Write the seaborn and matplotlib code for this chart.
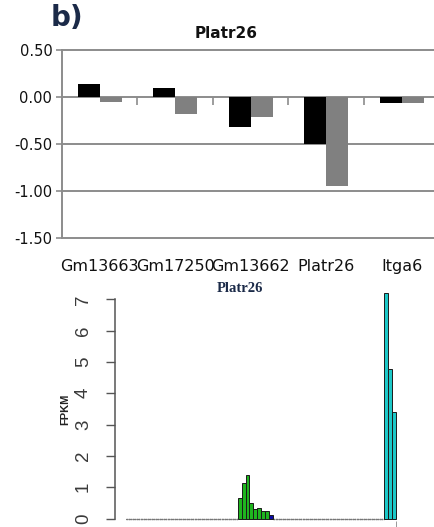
import matplotlib
matplotlib.use("Agg")
import matplotlib.pyplot as plt
import seaborn as sns
import pandas as pd
import numpy as np

# ---------------- data ----------------
genes = ["Gm13663", "Gm17250", "Gm13662", "Platr26", "Itga6"]
series_a = [0.14, 0.10, -0.32, -0.50, -0.07]
series_b = [-0.05, -0.18, -0.21, -0.95, -0.06]
top_ticks = [0.50, 0.00, -0.50, -1.00, -1.50]
top_tick_labels = ["0.50", "0.00", "-0.50", "-1.00", "-1.50"]

fpkm = [0.0, 0.0, 0.0, 0.0, 0.0, 0.0, 0.0, 0.0, 0.0, 0.0,
        0.0, 0.0, 0.0, 0.0, 0.0, 0.0, 0.0, 0.0, 0.0, 0.0,
        0.0, 0.0, 0.0, 0.0, 0.0, 0.0, 0.0, 0.0, 0.0,
        0.65, 1.15, 1.40, 0.51, 0.30, 0.33, 0.23, 0.26,
        0.12,
        0.0, 0.0, 0.0, 0.0, 0.0, 0.0, 0.0, 0.0, 0.0, 0.0,
        0.0, 0.0, 0.0, 0.0, 0.0, 0.0, 0.0, 0.0, 0.0, 0.0,
        0.0, 0.0, 0.0, 0.0, 0.0, 0.0, 0.0, 0.0, 0.0,
        7.19, 4.77, 3.41]
groups = (["none"] * 29 + ["green"] * 8 + ["blue"] * 1 + ["none"] * 29 + ["cyan"] * 3)
bottom_ticks = [0, 1, 2, 3, 4, 5, 6, 7]

# ---------------- figure ----------------
sns.set_style("white")
plt.rcParams["font.family"] = ["DejaVu Sans"]
W, H = 435, 527
fig = plt.figure(figsize=(W / 100, H / 100), dpi=100)

# ---------- top panel (Excel-like) ----------
grid_col = "#8c8c8c"
ax1 = fig.add_axes([62 / W, 1 - 237.7 / H, (W - 62) / W, 187.7 / H])
df_top = pd.DataFrame({
    "gene": genes * 2,
    "value": series_a + series_b,
    "series": ["A"] * len(genes) + ["B"] * len(genes),
})
sns.barplot(data=df_top, x="gene", y="value", hue="series", order=genes,
            palette={"A": "#000000", "B": "#808080"}, width=0.58,
            saturation=1, legend=False, ax=ax1, edgecolor="none")
ax1.set_ylim(-1.5, 0.5)
ax1.set_xlim(-0.5, -0.5 + (W - 62) / 75.5)
for t in top_ticks:
    ax1.axhline(t, color=grid_col, lw=1.4, zorder=0.5, clip_on=False)
for s in ["top", "right", "bottom"]:
    ax1.spines[s].set_visible(False)
ax1.spines["left"].set_color(grid_col)
ax1.spines["left"].set_linewidth(1.4)
ax1.set_yticks(top_ticks)
ax1.set_yticklabels(top_tick_labels)
ax1.tick_params(axis="y", length=4, width=1.2, color=grid_col, pad=3,
                labelsize=10.5, labelcolor="#111111", left=True)
ax1.set_xticks(range(len(genes)))
ax1.set_xticklabels(genes)
ax1.tick_params(axis="x", length=0, pad=15, labelsize=11.5, labelcolor="#111111")
ax1.set_xlabel("")
ax1.set_ylabel("")
# category separator tick marks on the zero line
ax1.vlines([i + 0.5 for i in range(len(genes) - 1)], -0.085, 0.0,
           colors=grid_col, lw=1.2, zorder=0.6)
fig.text(226 / W, 1 - 34 / H, "Platr26", ha="center", va="center",
         fontsize=11, fontweight="bold", color="#111111")
fig.text(51 / W, 1 - 18 / H, "b)", ha="left", va="center",
         fontsize=20, fontweight="bold", color="#1b2a48")

# ---------- bottom panel (R barplot-like) ----------
pitch = 270 / len(fpkm)
ax2 = fig.add_axes([115 / W, 1 - 521 / H, 285 / W, 231.1 / H])
df_bot = pd.DataFrame({"idx": range(len(fpkm)), "fpkm": fpkm, "grp": groups})
sns.barplot(data=df_bot, x="idx", y="fpkm", hue="grp", dodge=False,
            palette={"none": "#bbbbbb", "green": "#1fb51f",
                     "blue": "#0a0aa5", "cyan": "#1cc8c8"},
            width=1.0, saturation=1, legend=False, ax=ax2,
            edgecolor="#1a1a1a", linewidth=0.7)
for p in ax2.patches:
    if p.get_height() == 0:
        p.set_edgecolor("#777777")
        p.set_linestyle((0, (1.2, 0.6)))
        p.set_linewidth(0.9)
ax2.set_xlim(-0.5 - 11 / pitch, -0.5 - 11 / pitch + 285 / pitch)
ax2.set_ylim(-0.075, -0.075 + 231.1 / 31.34)
for s in ["top", "right", "bottom"]:
    ax2.spines[s].set_visible(False)
ax2.spines["left"].set_bounds(0, 7)
ax2.spines["left"].set_color("#555555")
ax2.spines["left"].set_linewidth(1.1)
ax2.set_yticks(bottom_ticks)
ax2.set_yticklabels([str(t) for t in bottom_ticks], rotation=90, va="center",
                    family="Liberation Sans")
ax2.tick_params(axis="y", length=6.5, width=1.0, color="#555555", pad=10,
                labelsize=13.5, labelcolor="#3a3a3a", left=True)
ax2.set_xticks([len(fpkm) - 0.5])
ax2.set_xticklabels([""])
ax2.tick_params(axis="x", length=4, width=0.6, color="#888888", bottom=True)
ax2.set_xlabel("")
ax2.set_ylabel("")
fig.text(65 / W, 1 - 409 / H, "FPKM", rotation=90, ha="center", va="center",
         fontsize=8, fontweight="bold", family="Liberation Sans",
         color="#222222")
fig.text(240 / W, 1 - 288 / H, "Platr26", ha="center", va="center",
         fontsize=10.5, fontweight="bold", family="Liberation Serif",
         color="#1b2a48")

fig.savefig("out.png", dpi=100)
